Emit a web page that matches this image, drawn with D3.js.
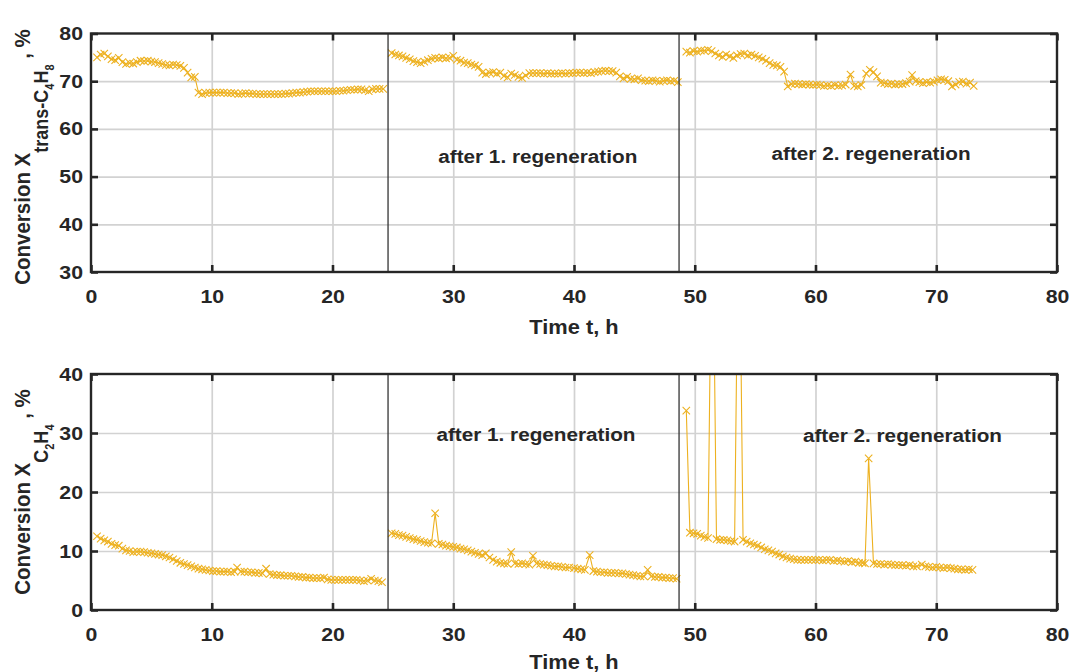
<!DOCTYPE html>
<html><head><meta charset="utf-8">
<script src="https://cdn.jsdelivr.net/npm/d3@7"></script>
<style>
body{margin:0;background:#fff}
text{font-family:"Liberation Sans",Arial,sans-serif;font-weight:bold;fill:#262626}
</style>
</head><body>
<svg id="c" width="1070" height="672"></svg>
<script>
// ---------------- data ----------------
const xTicks = [0,10,20,30,40,50,60,70,80];
const topYTicks = [30,40,50,60,70,80];
const botYTicks = [0,10,20,30,40];
const regenTimes = [24.6, 48.7];
const regenLabels = ["after 1. regeneration", "after 2. regeneration"];
const xTitle = "Time t, h";

// trans-C4H8 conversion, %  [time h, value]
const top1 = [[0.5,75.0],[0.8,75.6],[1.1,75.8],[1.4,75.2],[1.7,74.6],[2.0,74.4],[2.3,74.9],[2.6,74.0],[2.9,73.6],[3.2,73.8],[3.5,73.7],[3.8,74.0],[4.1,74.3],[4.4,74.2],[4.7,74.3],[5.0,74.1],[5.3,74.0],[5.6,73.8],[5.9,73.6],[6.2,73.4],[6.5,73.3],[6.8,73.5],[7.1,73.4],[7.4,73.2],[7.7,72.8],[8.0,71.8],[8.3,70.8],[8.6,70.9],[8.9,67.6],[9.2,67.3],[9.5,67.5],[9.8,67.6],[10.1,67.6],[10.4,67.6],[10.7,67.6],[11.0,67.6],[11.3,67.5],[11.6,67.5],[11.9,67.5],[12.2,67.3],[12.5,67.4],[12.8,67.5],[13.1,67.4],[13.4,67.4],[13.7,67.3],[14.0,67.3],[14.3,67.3],[14.6,67.3],[14.9,67.3],[15.2,67.3],[15.5,67.3],[15.8,67.3],[16.1,67.4],[16.4,67.4],[16.7,67.5],[17.0,67.6],[17.3,67.6],[17.6,67.7],[17.9,67.8],[18.2,67.9],[18.5,67.9],[18.8,67.9],[19.1,67.9],[19.4,67.9],[19.7,67.9],[20.0,67.9],[20.3,67.9],[20.6,68.0],[20.9,68.0],[21.2,68.1],[21.5,68.2],[21.8,68.2],[22.1,68.3],[22.4,68.3],[22.7,68.1],[23.0,67.9],[23.3,68.3],[23.6,68.4],[23.9,68.4],[24.2,68.4]];
const top2 = [[24.9,75.9],[25.2,75.6],[25.5,75.4],[25.8,75.2],[26.1,74.9],[26.4,74.6],[26.7,74.2],[27.0,74.0],[27.3,73.8],[27.6,74.1],[27.9,74.4],[28.2,74.7],[28.5,74.9],[28.8,74.8],[29.1,75.0],[29.4,74.8],[29.7,74.9],[30.0,75.3],[30.3,74.5],[30.6,74.3],[30.9,73.9],[31.2,73.8],[31.5,73.5],[31.8,73.3],[32.1,73.0],[32.4,71.8],[32.7,71.5],[33.0,71.8],[33.3,71.9],[33.6,71.6],[33.9,71.8],[34.2,71.1],[34.5,70.8],[34.8,71.6],[35.1,71.3],[35.4,70.9],[35.7,70.7],[36.0,71.2],[36.3,71.7],[36.6,71.7],[36.9,71.7],[37.2,71.7],[37.5,71.6],[37.8,71.7],[38.1,71.6],[38.4,71.6],[38.7,71.6],[39.0,71.7],[39.3,71.6],[39.6,71.7],[39.9,71.7],[40.2,71.8],[40.5,71.8],[40.8,71.7],[41.1,71.8],[41.4,71.7],[41.7,71.9],[42.0,72.0],[42.3,72.1],[42.6,72.2],[42.9,72.1],[43.2,72.1],[43.5,71.8],[43.8,71.0],[44.1,70.6],[44.4,70.9],[44.7,70.5],[45.0,70.4],[45.3,70.6],[45.6,70.2],[45.9,70.1],[46.2,70.0],[46.5,70.2],[46.8,70.1],[47.1,69.9],[47.4,70.1],[47.7,70.2],[48.0,70.0],[48.3,70.1],[48.6,69.8]];
const top3 = [[49.3,76.2],[49.6,76.0],[49.9,76.3],[50.2,76.2],[50.5,76.4],[50.8,76.4],[51.1,76.6],[51.4,76.3],[51.7,75.8],[52.0,75.4],[52.3,75.1],[52.6,75.6],[52.9,75.2],[53.2,74.9],[53.5,75.4],[53.8,75.7],[54.1,75.8],[54.4,75.4],[54.7,75.6],[55.0,75.3],[55.3,75.0],[55.6,74.7],[55.9,74.3],[56.2,73.8],[56.5,73.4],[56.8,73.3],[57.1,73.0],[57.4,72.0],[57.7,68.9],[58.0,69.4],[58.3,69.5],[58.6,69.4],[58.9,69.3],[59.2,69.4],[59.5,69.3],[59.8,69.2],[60.1,69.3],[60.4,69.2],[60.7,69.0],[61.0,69.1],[61.3,69.0],[61.6,69.2],[61.9,69.0],[62.2,69.1],[62.5,69.3],[62.9,71.4],[63.2,69.0],[63.5,68.9],[63.8,69.2],[64.2,71.6],[64.5,72.4],[64.8,71.9],[65.1,71.0],[65.4,69.7],[65.7,69.6],[66.0,69.4],[66.3,69.5],[66.6,69.3],[66.9,69.4],[67.2,69.4],[67.5,69.6],[67.8,69.9],[68.0,71.3],[68.3,70.0],[68.6,69.8],[68.9,69.6],[69.2,69.8],[69.5,69.7],[69.8,69.9],[70.1,70.2],[70.4,70.4],[70.7,70.3],[71.0,70.0],[71.3,68.9],[71.6,69.3],[71.9,69.8],[72.2,69.9],[72.5,69.5],[72.8,69.7],[73.1,69.0]];

// C2H4 conversion, %  [time h, value]
const bot1 = [[0.5,12.5],[0.8,12.1],[1.1,11.8],[1.4,11.6],[1.7,11.2],[2.0,11.0],[2.3,10.9],[2.6,10.4],[2.9,10.1],[3.2,10.0],[3.5,9.8],[3.8,9.9],[4.1,9.9],[4.4,9.8],[4.7,9.7],[5.0,9.6],[5.3,9.5],[5.6,9.4],[5.9,9.3],[6.2,9.1],[6.5,8.9],[6.8,8.6],[7.1,8.3],[7.4,8.0],[7.7,7.8],[8.0,7.6],[8.3,7.4],[8.6,7.2],[8.9,7.0],[9.2,6.9],[9.5,6.8],[9.8,6.7],[10.1,6.6],[10.4,6.6],[10.7,6.5],[11.0,6.5],[11.3,6.5],[11.6,6.4],[11.9,6.5],[12.1,7.2],[12.4,6.5],[12.7,6.5],[13.0,6.4],[13.3,6.4],[13.6,6.3],[13.9,6.3],[14.2,6.2],[14.5,7.0],[14.8,6.1],[15.1,6.0],[15.4,5.9],[15.7,5.9],[16.0,5.8],[16.3,5.8],[16.6,5.8],[16.9,5.7],[17.2,5.6],[17.5,5.6],[17.8,5.5],[18.1,5.5],[18.4,5.4],[18.7,5.4],[19.0,5.4],[19.3,5.5],[19.6,5.2],[19.9,5.1],[20.2,5.1],[20.5,5.1],[20.8,5.1],[21.1,5.1],[21.4,5.1],[21.7,5.1],[22.0,5.1],[22.3,5.0],[22.6,4.9],[22.9,5.0],[23.2,5.3],[23.5,5.0],[23.8,4.9],[24.1,4.7]];
const bot2 = [[24.9,13.0],[25.2,12.9],[25.5,12.7],[25.8,12.6],[26.1,12.4],[26.4,12.2],[26.7,12.0],[27.0,11.9],[27.3,11.7],[27.6,11.5],[27.9,11.4],[28.2,11.3],[28.5,16.4],[28.8,11.2],[29.1,11.1],[29.4,10.9],[29.7,10.8],[30.0,10.7],[30.3,10.6],[30.6,10.4],[30.9,10.3],[31.2,10.1],[31.5,9.9],[31.8,9.7],[32.1,9.5],[32.4,9.3],[32.7,9.6],[33.0,8.9],[33.3,8.5],[33.6,8.2],[33.9,8.0],[34.2,7.9],[34.5,7.8],[34.8,9.8],[35.1,7.9],[35.4,7.8],[35.7,7.9],[36.0,7.8],[36.3,7.7],[36.6,9.2],[36.9,7.9],[37.2,7.8],[37.5,7.7],[37.8,7.6],[38.1,7.5],[38.4,7.4],[38.7,7.4],[39.0,7.3],[39.3,7.2],[39.6,7.2],[40.0,7.1],[40.3,7.0],[40.6,6.9],[40.9,6.8],[41.3,9.3],[41.6,6.6],[41.9,6.5],[42.2,6.4],[42.5,6.4],[42.8,6.3],[43.1,6.3],[43.4,6.3],[43.7,6.2],[44.0,6.2],[44.3,6.1],[44.6,6.0],[44.9,5.9],[45.2,5.8],[45.5,5.7],[45.8,5.7],[46.1,6.8],[46.4,5.7],[46.7,5.6],[47.0,5.6],[47.3,5.5],[47.6,5.5],[47.9,5.4],[48.2,5.4],[48.5,5.3]];
const bot3 = [[49.3,33.8],[49.6,13.1],[49.9,13.0],[50.2,12.9],[50.5,12.6],[50.8,12.4],[51.1,12.2],[51.45,75],[51.8,12.0],[52.1,11.9],[52.4,11.9],[52.7,11.8],[53.0,11.7],[53.3,11.6],[53.65,75],[54.0,11.9],[54.3,11.6],[54.6,11.3],[54.9,11.1],[55.2,10.9],[55.5,10.6],[55.8,10.3],[56.1,10.1],[56.4,9.9],[56.7,9.6],[57.0,9.4],[57.3,9.1],[57.6,8.9],[57.9,8.7],[58.2,8.6],[58.5,8.5],[58.8,8.5],[59.1,8.5],[59.4,8.5],[59.7,8.5],[60.0,8.5],[60.3,8.5],[60.6,8.4],[60.9,8.5],[61.2,8.5],[61.5,8.3],[61.8,8.4],[62.1,8.3],[62.4,8.2],[62.7,8.3],[63.0,8.1],[63.3,8.2],[63.6,8.0],[63.9,8.0],[64.1,7.9],[64.4,25.7],[64.8,7.9],[65.1,7.8],[65.4,7.8],[65.7,7.7],[66.0,7.8],[66.3,7.7],[66.6,7.6],[66.9,7.6],[67.2,7.6],[67.5,7.5],[67.8,7.6],[68.1,7.4],[68.4,7.4],[68.8,7.7],[69.1,7.4],[69.4,7.3],[69.7,7.2],[70.0,7.3],[70.3,7.2],[70.6,7.1],[70.9,7.2],[71.2,7.1],[71.5,7.0],[71.8,6.9],[72.1,6.9],[72.4,6.8],[72.7,6.9],[73.0,6.8]];

// ---------------- drawing ----------------
const svg = d3.select("#c");
const SX = 1.12;            // horizontal glyph stretch of the source image
const COLOR = "#EDB120";
const x = d3.scaleLinear().domain([0,80]).range([91,1057]);

const panels = [
  {id:"p1", y: d3.scaleLinear().domain([30,80]).range([272,33.5]), yTicks: topYTicks,
   series:[top1,top2,top3], labels:[[37,52.9],[64.6,53.4]], titleY:157, xTitleY:334,
   title:[["Conversion X",20.5,0],["trans-C",18,16],["4",11,5],["H",18,-5],["8",11,5],[" , %",20.5,-21]]},
  {id:"p2", y: d3.scaleLinear().domain([0,40]).range([610,374]), yTicks: botYTicks,
   series:[bot1,bot2,bot3], labels:[[36.85,28.7],[67.2,28.5]], titleY:492, xTitleY:669,
   title:[["Conversion X",20.5,0],["C",18,16],["2",11,5],["H",18,-5],["4",11,5],[" , %",20.5,-21]]}
];

panels.forEach(p => {
  const y = p.y;
  const [y0, y1] = y.range();           // bottom, top
  const [x0, x1] = x.range();
  const g = svg.append("g");

  g.append("clipPath").attr("id","clip-"+p.id)
    .append("rect").attr("x",x0).attr("y",y1).attr("width",x1-x0).attr("height",y0-y1);

  // grid
  const gx = g.append("g").attr("transform",`translate(0,${y0})`)
    .call(d3.axisBottom(x).tickValues(xTicks.slice(1,-1)).tickSize(-(y0-y1)).tickFormat(""));
  const gy = g.append("g").attr("transform",`translate(${x0},0)`)
    .call(d3.axisLeft(y).tickValues(p.yTicks.slice(1,-1)).tickSize(-(x1-x0)).tickFormat(""));
  [gx,gy].forEach(a => { a.select(".domain").remove(); a.selectAll("line").attr("stroke","#d2d2d2").attr("stroke-width",1.7); });

  // data
  const dg = g.append("g").attr("clip-path",`url(#clip-${p.id})`);
  const line = d3.line().x(d=>x(d[0])).y(d=>y(d[1]));
  p.series.forEach(s => {
    dg.append("path").datum(s).attr("d",line).attr("fill","none").attr("stroke",COLOR).attr("stroke-width",1.1);
    dg.selectAll(null).data(s).join("path")
      .attr("transform", d=>`translate(${x(d[0])},${y(d[1])})`)
      .attr("d","M-3.7,-3.7L3.7,3.7M-3.7,3.7L3.7,-3.7")
      .attr("stroke",COLOR).attr("stroke-width",1.1).attr("fill","none");
  });

  // regeneration separators
  regenTimes.forEach(t => {
    g.append("line").attr("x1",x(t)).attr("x2",x(t)).attr("y1",y0).attr("y2",y1)
      .attr("stroke","#333").attr("stroke-width",1.3);
  });

  // frame
  g.append("rect").attr("x",x0).attr("y",y1).attr("width",x1-x0).attr("height",y0-y1)
    .attr("fill","none").attr("stroke","#262626").attr("stroke-width",2.4);

  // ticks (inward) on all four sides
  const axB = g.append("g").attr("transform",`translate(0,${y0})`)
    .call(d3.axisBottom(x).tickValues(xTicks).tickSize(-7).tickPadding(18).tickFormat(d3.format("d")));
  const axT = g.append("g").attr("transform",`translate(0,${y1})`)
    .call(d3.axisTop(x).tickValues(xTicks).tickSize(-7).tickFormat(""));
  const axL = g.append("g").attr("transform",`translate(${x0},0)`)
    .call(d3.axisLeft(y).tickValues(p.yTicks).tickSize(-7).tickPadding(8).tickFormat(d3.format("d")));
  const axR = g.append("g").attr("transform",`translate(${x1},0)`)
    .call(d3.axisRight(y).tickValues(p.yTicks).tickSize(-7).tickFormat(""));
  [axB,axT,axL,axR].forEach(a => {
    a.select(".domain").remove();
    a.selectAll("line").attr("stroke","#262626").attr("stroke-width",2.6);
    a.selectAll("text").attr("font-family",null).attr("font-size",19).attr("fill","#262626");
  });
  axB.selectAll("text").attr("transform",`scale(${SX},1)`);
  axL.selectAll("text").attr("x",-8/SX).attr("transform",`scale(${SX},1)`);

  // regeneration labels
  p.labels.forEach((l,i) => {
    g.append("text").attr("transform",`translate(${x(l[0])},${y(l[1])}) scale(${SX},1)`)
      .attr("text-anchor","middle").attr("font-size",18.5).text(regenLabels[i]);
  });

  // x title
  g.append("text").attr("transform",`translate(${(x0+x1)/2},${p.xTitleY}) scale(${SX},1)`)
    .attr("text-anchor","middle").attr("font-size",19.5).text(xTitle);

  // y title
  const yt = g.append("text").attr("transform",`translate(30,${p.titleY}) scale(${SX},1) rotate(-90)`)
    .attr("text-anchor","middle");
  p.title.forEach(([s,fs,dy]) => yt.append("tspan").attr("font-size",fs).attr("dy",dy).text(s));
});
</script>
</body></html>
